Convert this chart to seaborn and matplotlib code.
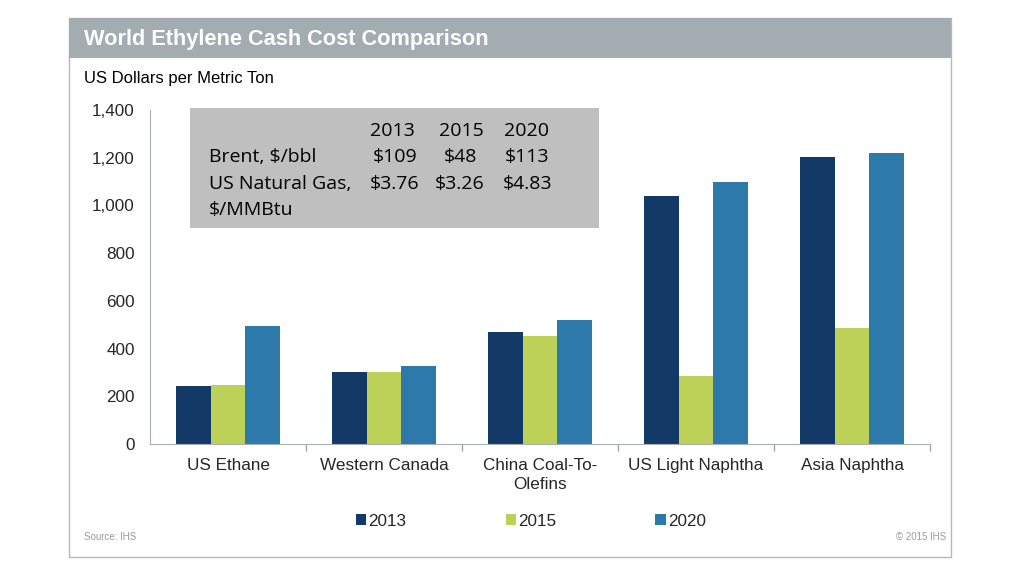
import numpy as np
import pandas as pd
import matplotlib
matplotlib.use("Agg")
import matplotlib.pyplot as plt
import seaborn as sns
from matplotlib.patches import Rectangle

# data
categories = ["US Ethane", "Western Canada", "China Coal-To-\nOlefins",
              "US Light Naphtha", "Asia Naphtha"]
years = ["2013", "2015", "2020"]
cost_2013 = [243, 300, 469, 1039, 1202]
cost_2015 = [247, 303, 454, 286, 485]
cost_2020 = [496, 326, 518, 1097, 1218]

# inset table
table_years = ["2013", "2015", "2020"]
brent = ["$109", "$48", "$113"]
us_gas = ["$3.76", "$3.26", "$4.83"]

colors = ["#133a66", "#bdd057", "#2c79aa"]

df = pd.DataFrame({
    "category": categories * 3,
    "year": [y for y in years for _ in categories],
    "cost": cost_2013 + cost_2015 + cost_2020,
})

sns.set_style("white")
plt.rcParams["font.family"] = ["Liberation Sans", "DejaVu Sans"]

W, H = 1022, 575
fig = plt.figure(figsize=(W / 100, H / 100), dpi=100)

def fx(x):
    return x / W

def fy(y):
    return 1 - y / H

# outer frame + title bar
fig.patches.append(Rectangle((fx(69), fy(557)), fx(951) - fx(69), fy(18) - fy(557),
                             transform=fig.transFigure, fill=False,
                             edgecolor="#b4b8bb", lw=1))
fig.patches.append(Rectangle((fx(69), fy(58)), fx(951) - fx(69), fy(18) - fy(58),
                             transform=fig.transFigure, facecolor="#a3acb1",
                             edgecolor="none"))
fig.text(fx(84), fy(39), "World Ethylene Cash Cost Comparison", color="white",
         fontsize=15.7, fontweight="bold", va="center", ha="left")
fig.text(fx(84), fy(79), "US Dollars per Metric Ton", fontsize=12,
         va="center", ha="left", color="black")

ax = fig.add_axes([fx(150), fy(444), fx(930) - fx(150), fy(110) - fy(444)])
sns.barplot(data=df, x="category", y="cost", hue="year", palette=colors,
            width=0.667, saturation=1, linewidth=0, edgecolor="none",
            ax=ax, legend=True)

ax.set_ylim(0, 1400)
ax.set_xlim(-0.5, 4.5)
ax.set_yticks(np.arange(0, 1401, 200))
ax.set_yticklabels([f"{v:,}" for v in range(0, 1401, 200)], fontsize=12.3)
ax.tick_params(axis="y", length=0, pad=11)
ax.set_xticks(range(len(categories)), categories)
for lbl in ax.get_xticklabels():
    lbl.set_linespacing(1.35)
ax.tick_params(axis="x", which="major", length=0, pad=10, labelsize=12.3)
ax.set_xticks(np.arange(0.5, 4.6, 1), minor=True)
ax.tick_params(axis="x", which="minor", bottom=True, length=5,
               color="#a0a6aa", width=1)
ax.set_xlabel("")
ax.set_ylabel("")
for s in ["top", "right"]:
    ax.spines[s].set_visible(False)
ax.spines["left"].set_color("#a9b0b4")
ax.spines["bottom"].set_color("#a9b0b4")

handles, labels = ax.get_legend_handles_labels()
ax.get_legend().remove()
fig.legend(handles, labels, loc="center", bbox_to_anchor=(fx(531), fy(521)),
           ncol=3, frameon=False, fontsize=12.3, handlelength=0.6,
           handleheight=0.6, handletextpad=0.15, columnspacing=5.8)

fig.text(fx(84), fy(537), "Source: IHS", fontsize=7, color="#9a9a9a",
         va="center", ha="left")
fig.text(fx(946), fy(537), "\u00a9 2015 IHS", fontsize=7, color="#9a9a9a",
         va="center", ha="right")

# inset box with oil and gas prices
fig.patches.append(Rectangle((fx(190), fy(228)), fx(599) - fx(190), fy(108) - fy(228),
                             transform=fig.transFigure, facecolor="#bfbfbf",
                             edgecolor="none", zorder=5))
tfont = dict(fontsize=14, family=["Open Sans", "DejaVu Sans"], va="center",
             color="black", zorder=6)
col_x = [392, 461, 526]
val_x = [395, 460, 527]
for x, t in zip(col_x, table_years):
    fig.text(fx(x), fy(131), t, ha="center", **tfont)
fig.text(fx(209), fy(157), "Brent, $/bbl", ha="left", **tfont)
fig.text(fx(209), fy(184), "US Natural Gas,", ha="left", **tfont)
fig.text(fx(209), fy(210), "$/MMBtu", ha="left", **tfont)
for x, t in zip(val_x, brent):
    fig.text(fx(x), fy(157), t, ha="center", **tfont)
for x, t in zip(val_x, us_gas):
    fig.text(fx(x), fy(184), t, ha="center", **tfont)

fig.savefig("out.png", dpi=100)
